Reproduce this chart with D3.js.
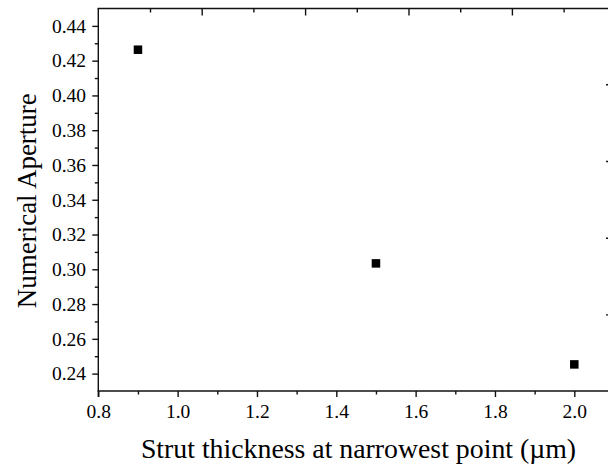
<!DOCTYPE html>
<html>
<head>
<meta charset="utf-8">
<script src="https://cdn.jsdelivr.net/npm/d3@7"></script>
<style>
  html, body { margin: 0; padding: 0; background: #fff; }
  svg { display: block; }
</style>
</head>
<body>
<svg id="chart" width="608" height="468"></svg>
<script>
// ---- data ----
const strutThickness = [0.9, 1.5, 2.0];
const numericalAperture = [0.4263, 0.3034, 0.2453];

const xMajorTicks = [0.8, 1.0, 1.2, 1.4, 1.6, 1.8, 2.0];
const xMinorTicks = [0.9, 1.1, 1.3, 1.5, 1.7, 1.9];
const yMajorTicks = [0.24, 0.26, 0.28, 0.30, 0.32, 0.34, 0.36, 0.38, 0.40, 0.42, 0.44];
const yMinorTicks = [0.25, 0.27, 0.29, 0.31, 0.33, 0.35, 0.37, 0.39, 0.41, 0.43];

// ticks of the (cropped) top / right frame axes
const topMajorTicks = [1, 2, 3, 4];
const topMinorTicks = [0.5, 1.5, 2.5, 3.5, 4.5];
const rightTicks = [0, 1, 2, 3];

const xTitle = "Strut thickness at narrowest point (\u00b5m)";
const yTitle = "Numerical Aperture";

(function () {
const FONT = "Liberation Serif";
const svg = d3.select("#chart").attr("font-family", FONT);
const W = 608;
const mLeft = 98.3, mBottom = 391, mTop = 8.5;
const tickFont = 19.5;

const x = d3.scaleLinear().domain([0.8, 2.0]).range([mLeft, 574.3]);
const y = d3.scaleLinear().domain([0.23, 0.45]).range([mBottom, mTop]);
const xEnd = x(2.1);

const topScale = d3.scaleLinear().domain([0, 1]).range([mLeft, 201.7]);
const rightScale = d3.scaleLinear().domain([0, 1]).range([84.3, 161]);

const axisColor = "#111";
const sw = 1.4;

function styleAxis(g) {
  g.attr("font-family", FONT).attr("font-size", tickFont);
  g.select(".domain").remove();
  g.selectAll(".tick line").attr("stroke", axisColor).attr("stroke-width", sw);
  g.selectAll(".tick text")
    .attr("font-family", FONT)
    .attr("font-size", tickFont)
    .attr("fill", "#000");
}

svg.append("g")
  .attr("transform", `translate(0,${mBottom})`)
  .call(d3.axisBottom(x).tickValues(xMajorTicks).tickSize(6).tickPadding(7).tickFormat(d3.format(".1f")))
  .call(styleAxis);
svg.append("g")
  .attr("transform", `translate(0,${mBottom})`)
  .call(d3.axisBottom(x).tickValues(xMinorTicks).tickSize(3.5).tickFormat(""))
  .call(styleAxis);

svg.append("g")
  .attr("transform", `translate(${mLeft},0)`)
  .call(d3.axisLeft(y).tickValues(yMajorTicks).tickSize(6).tickPadding(6.3).tickFormat(d3.format(".2f")))
  .call(styleAxis);
svg.append("g")
  .attr("transform", `translate(${mLeft},0)`)
  .call(d3.axisLeft(y).tickValues(yMinorTicks).tickSize(3.5).tickFormat(""))
  .call(styleAxis);

svg.append("g")
  .attr("transform", `translate(0,${mTop})`)
  .call(d3.axisBottom(topScale).tickValues(topMajorTicks).tickSize(7).tickFormat(""))
  .call(styleAxis);
svg.append("g")
  .attr("transform", `translate(0,${mTop})`)
  .call(d3.axisBottom(topScale).tickValues(topMinorTicks).tickSize(4).tickFormat(""))
  .call(styleAxis);

svg.append("g")
  .attr("transform", `translate(${W + 5},0)`)
  .call(d3.axisLeft(rightScale).tickValues(rightTicks).tickSize(7).tickFormat(""))
  .call(styleAxis);

svg.append("line").attr("x1", mLeft).attr("x2", mLeft).attr("y1", mTop).attr("y2", mBottom + 6)
  .attr("stroke", axisColor).attr("stroke-width", sw);
svg.append("line").attr("x1", mLeft - 0.7).attr("x2", xEnd).attr("y1", mBottom).attr("y2", mBottom)
  .attr("stroke", axisColor).attr("stroke-width", sw);
svg.append("line").attr("x1", mLeft - 0.7).attr("x2", xEnd).attr("y1", mTop).attr("y2", mTop)
  .attr("stroke", axisColor).attr("stroke-width", sw);

const size = 8.5;
svg.append("g").selectAll("rect")
  .data(strutThickness.map((d, i) => ({ x: d, y: numericalAperture[i] })))
  .join("rect")
  .attr("x", d => x(d.x) - size / 2)
  .attr("y", d => y(d.y) - size / 2)
  .attr("width", size)
  .attr("height", size)
  .attr("fill", "#000");

svg.append("text")
  .attr("x", 358.5)
  .attr("y", 458)
  .attr("text-anchor", "middle")
  .attr("font-family", FONT)
  .attr("font-size", 27.8)
  .attr("fill", "#000")
  .text(xTitle);

svg.append("text")
  .attr("transform", `translate(36,${(mTop + mBottom) / 2 + 1}) rotate(-90)`)
  .attr("text-anchor", "middle")
  .attr("font-family", FONT)
  .attr("font-size", 27)
  .attr("fill", "#000")
  .text(yTitle);
})();
</script>
</body>
</html>
